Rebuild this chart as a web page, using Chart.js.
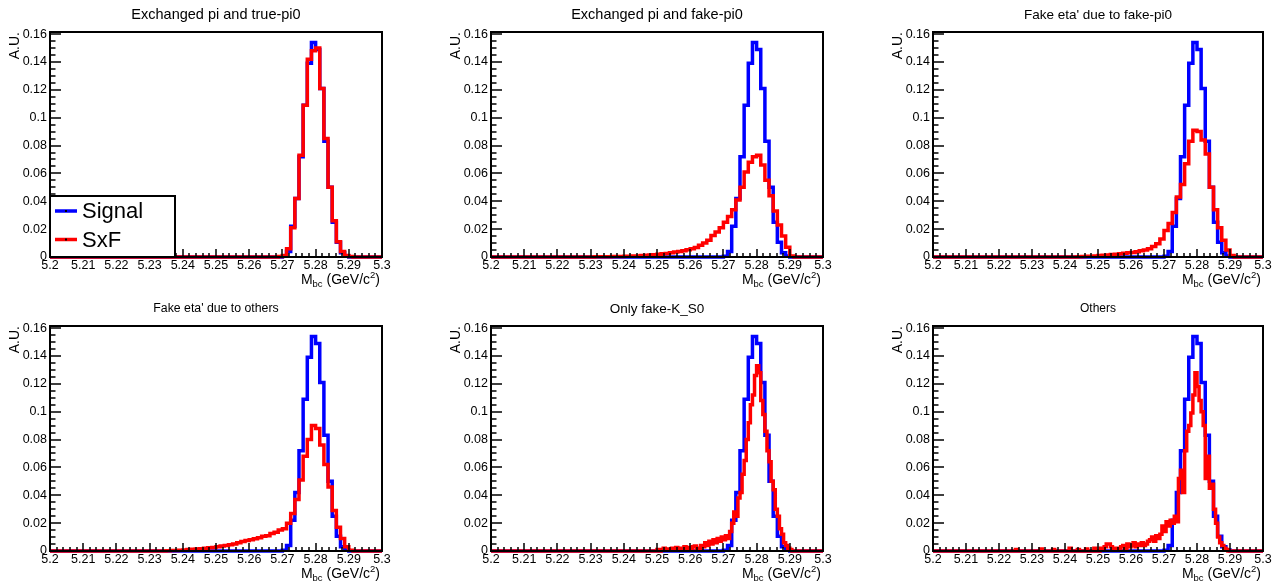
<!DOCTYPE html>
<html>
<head>
<meta charset="utf-8">
<script src="https://cdn.jsdelivr.net/npm/chart.js@4/dist/chart.umd.min.js"></script>
<style>
  body { margin: 0; background: #fff; }
  #page { position: relative; width: 1283px; height: 585px; overflow: hidden; background: #fff; }
  #page canvas { position: absolute; }
</style>
</head>
<body>
<div id="page"></div>
<script>
// axis range and ticks
const xMin = 5.2, xMax = 5.3;
const yMax = 0.1615;
const xTickValues = [5.2, 5.21, 5.22, 5.23, 5.24, 5.25, 5.26, 5.27, 5.28, 5.29, 5.3];
const xTickLabels = ['5.2', '5.21', '5.22', '5.23', '5.24', '5.25', '5.26', '5.27', '5.28', '5.29', '5.3'];
const yTickValues = [0, 0.02, 0.04, 0.06, 0.08, 0.1, 0.12, 0.14, 0.16];
const yTickLabels = ['0', '0.02', '0.04', '0.06', '0.08', '0.1', '0.12', '0.14', '0.16'];
const xMinorStep = 0.002, yMinorStep = 0.005;

const titles = [
    'Exchanged pi and true-pi0',
    'Exchanged pi and fake-pi0',
    "Fake eta' due to fake-pi0",
    "Fake eta' due to others",
    'Only fake-K_S0',
    'Others'
];
const seriesNames = ['Signal', 'SxF'];

// bin contents, 80 bins from 5.2 to 5.3 (10 per row)
const signal = [
    0, 0, 0, 0, 0, 0, 0, 0, 0, 0,
    0, 0, 0, 0, 0, 0, 0, 0, 0, 0,
    0, 0, 0, 0, 0, 0, 0, 0, 0, 0,
    0, 0, 0, 0, 0, 0, 0, 0, 0, 0,
    0, 0, 0, 0, 0, 0, 0, 0, 0, 0,
    0, 0, 0, 0, 0, 0, 0.0005, 0.004, 0.022, 0.042,
    0.072, 0.109, 0.139, 0.154, 0.149, 0.121, 0.083, 0.050, 0.025, 0.0105,
    0.003, 0.0008, 0, 0, 0, 0, 0, 0, 0, 0
];
const sxfTruePi0 = [
    0, 0, 0, 0, 0, 0, 0, 0, 0, 0,
    0, 0, 0, 0, 0, 0, 0, 0, 0, 0,
    0, 0, 0, 0, 0, 0, 0, 0, 0, 0,
    0, 0, 0, 0, 0, 0, 0, 0, 0, 0,
    0, 0, 0, 0, 0, 0, 0, 0, 0, 0,
    0, 0, 0, 0, 0, 0.0003, 0.001, 0.006, 0.021, 0.042,
    0.073, 0.109, 0.142, 0.148, 0.150, 0.121, 0.085, 0.050, 0.026, 0.011,
    0.004, 0.001, 0.0003, 0, 0, 0, 0, 0, 0, 0
];
const sxfFakePi0 = [
    0, 0, 0, 0, 0, 0, 0, 0, 0, 0,
    0, 0, 0, 0, 0, 0, 0, 0, 0, 0,
    0, 0, 0, 0, 0, 0.0001, 0.0001, 0.0002, 0.0002, 0.0003,
    0.0003, 0.0004, 0.0005, 0.0006, 0.0007, 0.0008, 0.001, 0.0012, 0.0014, 0.0016,
    0.002, 0.0023, 0.0026, 0.003, 0.0035, 0.004, 0.0045, 0.0052, 0.006, 0.0068,
    0.0085, 0.010, 0.012, 0.0155, 0.018, 0.021, 0.025, 0.029, 0.034, 0.041,
    0.050, 0.061, 0.068, 0.072, 0.073, 0.066, 0.055, 0.044, 0.033, 0.023,
    0.015, 0.007, 0.0008, 0, 0, 0, 0, 0, 0, 0
];
const sxfEtaFakePi0 = [
    0, 0, 0, 0, 0, 0, 0, 0, 0, 0,
    0, 0, 0, 0, 0, 0, 0, 0, 0, 0,
    0, 0, 0, 0, 0, 0, 0, 0, 0, 0,
    0, 0, 0, 0, 0, 0.0002, 0.0003, 0.0005, 0.0006, 0.0008,
    0.001, 0.0012, 0.0015, 0.0018, 0.002, 0.0024, 0.0027, 0.003, 0.0033, 0.0038,
    0.0045, 0.005, 0.006, 0.0075, 0.0096, 0.013, 0.019, 0.024, 0.032, 0.043,
    0.052, 0.067, 0.083, 0.091, 0.090, 0.084, 0.074, 0.050, 0.034, 0.021,
    0.012, 0.005, 0.001, 0, 0, 0, 0, 0, 0, 0
];
const sxfEtaOthers = [
    0, 0, 0, 0, 0, 0, 0, 0, 0, 0,
    0, 0, 0, 0, 0, 0, 0, 0, 0, 0,
    0, 0, 0, 0, 0, 0, 0, 0, 0.0002, 0.0003,
    0.0003, 0.0005, 0.0008, 0.001, 0.0012, 0.0014, 0.0017, 0.002, 0.0023, 0.0026,
    0.003, 0.0035, 0.004, 0.0045, 0.005, 0.006, 0.0068, 0.0075, 0.008, 0.0088,
    0.0095, 0.0105, 0.011, 0.0125, 0.0135, 0.015, 0.016, 0.020, 0.027, 0.037,
    0.051, 0.068, 0.080, 0.090, 0.088, 0.076, 0.062, 0.046, 0.029, 0.017,
    0.009, 0.003, 0.0005, 0, 0, 0, 0, 0, 0, 0
];
// finer binning (160 bins) for the low-statistics samples
const sxfFakeKs = [
    0, 0, 0, 0, 0, 0, 0, 0, 0, 0,
    0, 0, 0, 0, 0, 0, 0, 0, 0, 0,
    0, 0, 0, 0, 0, 0, 0, 0, 0, 0,
    0, 0, 0, 0, 0, 0, 0, 0, 0, 0,
    0, 0, 0, 0, 0, 0, 0, 0, 0, 0,
    0, 0, 0, 0, 0, 0, 0, 0, 0, 0,
    0, 0, 0, 0, 0, 0, 0, 0, 0, 0,
    0, 0, 0, 0, 0, 0, 0, 0, 0, 0,
    0.001, 0, 0.001, 0.002, 0.001, 0.0015, 0.001, 0.002, 0.001, 0.0025,
    0.001, 0.002, 0.0015, 0.003, 0.002, 0.0025, 0.002, 0.003, 0.0035, 0.002,
    0.002, 0.004, 0.003, 0.006, 0.004, 0.007, 0.005, 0.008, 0.006, 0.009,
    0.007, 0.010, 0.008, 0.011, 0.009, 0.014, 0.020, 0.028, 0.025, 0.038,
    0.042, 0.055, 0.065, 0.080, 0.092, 0.105, 0.112, 0.126, 0.133, 0.128,
    0.108, 0.098, 0.086, 0.072, 0.064, 0.050, 0.044, 0.030, 0.025, 0.016,
    0.012, 0.006, 0.004, 0.002, 0.001, 0, 0, 0, 0, 0,
    0, 0, 0, 0, 0, 0, 0, 0, 0, 0
];
const sxfOthers = [
    0, 0, 0, 0, 0, 0, 0, 0, 0, 0,
    0, 0, 0, 0, 0, 0, 0, 0, 0, 0,
    0, 0, 0, 0, 0, 0, 0, 0, 0, 0,
    0, 0, 0, 0, 0, 0, 0, 0, 0, 0,
    0.001, 0, 0, 0, 0, 0, 0, 0, 0, 0,
    0, 0, 0.0015, 0, 0, 0, 0, 0, 0.001, 0,
    0, 0, 0, 0, 0, 0, 0.002, 0, 0, 0,
    0.001, 0, 0, 0, 0.0015, 0, 0, 0, 0.002, 0,
    0, 0.002, 0.001, 0.003, 0.005, 0.005, 0.003, 0.001, 0.002, 0.001,
    0.002, 0.003, 0.004, 0.002, 0.005, 0.003, 0.004, 0.006, 0.003, 0.005,
    0.004, 0.006, 0.004, 0.005, 0.007, 0.008, 0.010, 0.007, 0.011, 0.009,
    0.012, 0.018, 0.014, 0.021, 0.018, 0.022, 0.020, 0.025, 0.021, 0.052,
    0.058, 0.042, 0.072, 0.086, 0.090, 0.099, 0.112, 0.128, 0.118, 0.108,
    0.100, 0.090, 0.052, 0.068, 0.045, 0.048, 0.030, 0.020, 0.010, 0.006,
    0.004, 0.002, 0.001, 0, 0, 0, 0, 0, 0, 0,
    0, 0, 0, 0, 0, 0, 0, 0, 0, 0
];
const sxfSeries = [sxfTruePi0, sxfFakePi0, sxfEtaFakePi0, sxfEtaOthers, sxfFakeKs, sxfOthers];

// layout of the 2x3 pads (frame positions in page pixels)
const frameLeft = [50, 491, 933];
const frameWidth = [332, 332, 330];
const frameTop = [32, 326];
const frameHeight = 225;
const titleSizes = [14.5, 14.5, 13.5, 12.3, 13.5, 12];
const FONT = "'Liberation Sans', Arial, Helvetica, sans-serif";

function histPoints(values) {
    const w = (xMax - xMin) / values.length;
    const pts = values.map((v, i) => ({ x: xMin + i * w, y: v }));
    pts.push({ x: xMax, y: 0 });
    return pts;
}

function drawAxisTitle(ctx, right, baseline) {
    const parts = [
        { t: 'M', size: 14, dy: 0 },
        { t: 'bc', size: 9.5, dy: 3 },
        { t: ' (GeV/c', size: 14, dy: 0 },
        { t: '2', size: 9.5, dy: -5.5 },
        { t: ')', size: 14, dy: 0 }
    ];
    let total = 0;
    parts.forEach(p => {
        ctx.font = `${p.size}px ${FONT}`;
        p.w = ctx.measureText(p.t).width;
        total += p.w;
    });
    let x = right - total;
    ctx.textAlign = 'left';
    ctx.textBaseline = 'alphabetic';
    parts.forEach(p => {
        ctx.font = `${p.size}px ${FONT}`;
        ctx.fillText(p.t, x, baseline + p.dy);
        x += p.w;
    });
}

// ROOT-like frame: inward ticks, title, axis title, legend
const rootStyle = {
    id: 'rootStyle',
    afterDatasetsDraw(chart, args, opts) {
        const { ctx, chartArea: a } = chart;
        const sx = chart.scales.x, sy = chart.scales.y;
        ctx.save();
        ctx.strokeStyle = '#000';
        ctx.fillStyle = '#000';

        ctx.lineWidth = 1.5;
        ctx.beginPath();
        const nx = Math.round((xMax - xMin) / xMinorStep);
        for (let i = 0; i <= nx; i++) {
            const px = Math.round(sx.getPixelForValue(xMin + i * xMinorStep));
            const len = i % 5 === 0 ? 8 : 4;
            ctx.moveTo(px, a.bottom);
            ctx.lineTo(px, a.bottom - len);
        }
        for (let i = 0; i * yMinorStep <= yMax; i++) {
            const py = Math.round(sy.getPixelForValue(i * yMinorStep));
            const len = i % 4 === 0 ? 11 : 5.5;
            ctx.moveTo(a.left, py);
            ctx.lineTo(a.left + len, py);
        }
        ctx.stroke();
        ctx.lineWidth = 2;
        ctx.strokeRect(a.left, a.top, a.right - a.left, a.bottom - a.top);

        // pad title
        ctx.font = `${opts.titleSize}px ${FONT}`;
        ctx.textAlign = 'center';
        ctx.textBaseline = 'middle';
        ctx.fillText(opts.title, (a.left + a.right) / 2, a.top - 17);

        drawAxisTitle(ctx, a.right - 2, a.bottom + 26.5);

        if (opts.legend) {
            const lx = a.left, ly = a.bottom - 61, lw = 125, lh = 61;
            ctx.fillStyle = '#fff';
            ctx.fillRect(lx, ly, lw, lh);
            ctx.strokeStyle = '#000';
            ctx.lineWidth = 2;
            ctx.strokeRect(lx, ly, lw, lh);
            const rows = [ly + 15, ly + 43.5];
            [...chart.data.datasets].sort((p, q) => p.legendIndex - q.legendIndex).forEach((ds, i) => {
                ctx.strokeStyle = ds.borderColor;
                ctx.lineWidth = 3.5;
                ctx.beginPath();
                ctx.moveTo(lx + 5, rows[i]);
                ctx.lineTo(lx + 27, rows[i]);
                ctx.stroke();
                ctx.fillStyle = '#000';
                ctx.fillRect(lx + 15, rows[i] - 1, 2, 2);
                ctx.font = `22px ${FONT}`;
                ctx.textAlign = 'left';
                ctx.textBaseline = 'middle';
                ctx.fillText(ds.label, lx + 32, rows[i] + 1);
            });
        }
        ctx.restore();
    }
};

const page = document.getElementById('page');

sxfSeries.forEach((sxf, idx) => {
    const row = Math.floor(idx / 3), col = idx % 3;
    const canvas = document.createElement('canvas');
    const W = 50 + frameWidth[col] + 22;
    const H = 32 + frameHeight + 34;
    canvas.width = W;
    canvas.height = H;
    canvas.style.left = (frameLeft[col] - 50) + 'px';
    canvas.style.top = (frameTop[row] - 32) + 'px';
    canvas.style.width = W + 'px';
    canvas.style.height = H + 'px';
    page.appendChild(canvas);

    new Chart(canvas.getContext('2d'), {
        type: 'line',
        data: {
            datasets: [
                {
                    label: seriesNames[0],
                    legendIndex: 0,
                    data: histPoints(signal),
                    borderColor: '#0000ff',
                    order: 1
                },
                {
                    label: seriesNames[1],
                    legendIndex: 1,
                    data: histPoints(sxf),
                    borderColor: '#ff0000',
                    order: 0
                }
            ]
        },
        options: {
            responsive: false,
            animation: false,
            devicePixelRatio: 1,
            layout: { padding: { top: 32, right: 22, left: 0, bottom: 0 } },
            elements: {
                line: { borderWidth: 3.5, stepped: true, tension: 0, fill: false, borderJoinStyle: 'miter', borderCapStyle: 'butt' },
                point: { radius: 0 }
            },
            datasets: { line: { clip: false } },
            scales: {
                x: {
                    type: 'linear',
                    min: xMin,
                    max: xMax,
                    afterBuildTicks: s => { s.ticks = xTickValues.map(v => ({ value: v })); },
                    afterFit: s => { s.height = H - 32 - frameHeight; },
                    grid: { display: false, drawTicks: false, tickLength: 0 },
                    border: { display: false },
                    ticks: {
                        autoSkip: false,
                        maxRotation: 0,
                        minRotation: 0,
                        padding: 1,
                        color: '#000',
                        font: { family: FONT, size: 12.5 },
                        callback: (v, i) => xTickLabels[i]
                    }
                },
                y: {
                    type: 'linear',
                    min: 0,
                    max: yMax,
                    afterBuildTicks: s => { s.ticks = yTickValues.map(v => ({ value: v })); },
                    afterFit: s => { s.width = 50; },
                    grid: { display: false, drawTicks: false, tickLength: 0 },
                    border: { display: false },
                    ticks: {
                        padding: 3,
                        color: '#000',
                        font: { family: FONT, size: 12.5 },
                        callback: (v, i) => yTickLabels[i]
                    },
                    title: {
                        display: true,
                        text: 'A.U.',
                        align: 'end',
                        color: '#000',
                        font: { family: FONT, size: 14 },
                        padding: { top: 6.6, bottom: 0 }
                    }
                }
            },
            plugins: {
                legend: { display: false },
                tooltip: { enabled: false },
                rootStyle: { title: titles[idx], titleSize: titleSizes[idx], legend: idx === 0 }
            }
        },
        plugins: [rootStyle]
    });
});
</script>
</body>
</html>
